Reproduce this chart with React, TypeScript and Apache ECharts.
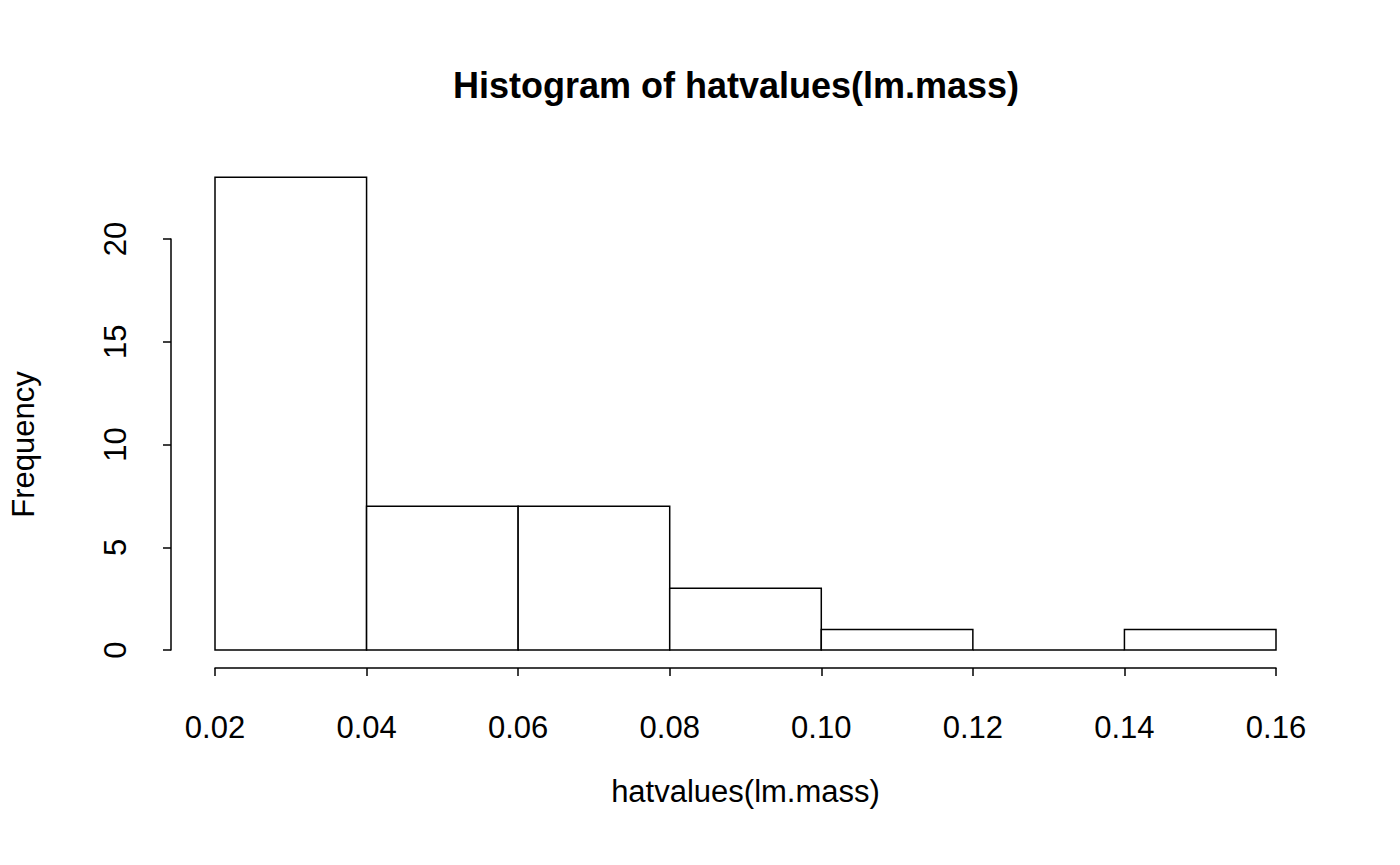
import { useEffect, useRef } from 'react'
import * as echarts from 'echarts'

const binStarts = [0.02, 0.04, 0.06, 0.08, 0.1, 0.12, 0.14]
const binWidth = 0.02
const counts = [23, 7, 7, 3, 1, 0, 1]

const FONT = 'Liberation Sans, Arial, sans-serif'

export default function App() {
  const chartRef = useRef<HTMLDivElement>(null)

  useEffect(() => {
    if (!chartRef.current) return
    const chart = echarts.init(chartRef.current, null, { renderer: 'svg' })

    const option: echarts.EChartsOption = {
      animation: false,
      backgroundColor: '#ffffff',
      title: {
        text: 'Histogram of hatvalues(lm.mass)',
        left: 731,
        top: 62,
        textAlign: 'center',
        textStyle: { fontFamily: FONT, fontSize: 36, fontWeight: 'bold', color: '#000' },
      },
      grid: { left: 194, right: 124, top: 239, bottom: 215 },
      xAxis: {
        type: 'value',
        min: 0.02,
        max: 0.16,
        interval: 0.02,
        offset: 18,
        name: 'hatvalues(lm.mass)',
        nameLocation: 'middle',
        nameGap: 108,
        nameTextStyle: { fontFamily: FONT, fontSize: 31, color: '#000' },
        axisLine: { onZero: false, lineStyle: { color: '#000', width: 1.5 } },
        axisTick: { length: 8, lineStyle: { color: '#000', width: 1.5 } },
        axisLabel: {
          fontFamily: FONT,
          fontSize: 31,
          color: '#000',
          margin: 44,
          formatter: (v: number) => v.toFixed(2),
        },
        splitLine: { show: false },
      },
      yAxis: {
        type: 'value',
        min: 0,
        max: 20,
        interval: 5,
        offset: 44,
        name: 'Frequency',
        nameLocation: 'middle',
        nameGap: 132,
        nameTextStyle: { fontFamily: FONT, fontSize: 31, color: '#000' },
        axisLine: { show: true, onZero: false, lineStyle: { color: '#000', width: 1.5 } },
        axisTick: { show: true, length: 8, lineStyle: { color: '#000', width: 1.5 } },
        axisLabel: { fontFamily: FONT, fontSize: 31, color: '#000', rotate: 90, margin: 40 },
        splitLine: { show: false },
      },
      series: [
        {
          type: 'custom',
          clip: false,
          data: binStarts.map((s, i) => [s, s + binWidth, counts[i]]),
          renderItem: (_params: any, api: any) => {
            const p0 = api.coord([api.value(0), 0])
            const p1 = api.coord([api.value(1), api.value(2)])
            return {
              type: 'rect',
              shape: { x: p0[0], y: p1[1], width: p1[0] - p0[0], height: p0[1] - p1[1] },
              style: { fill: '#fff', stroke: '#000', lineWidth: 1.5 },
            }
          },
        },
      ],
    }

    chart.setOption(option)
    return () => chart.dispose()
  }, [])

  return <div ref={chartRef} style={{ width: 1400, height: 865, margin: -8 }} />
}
